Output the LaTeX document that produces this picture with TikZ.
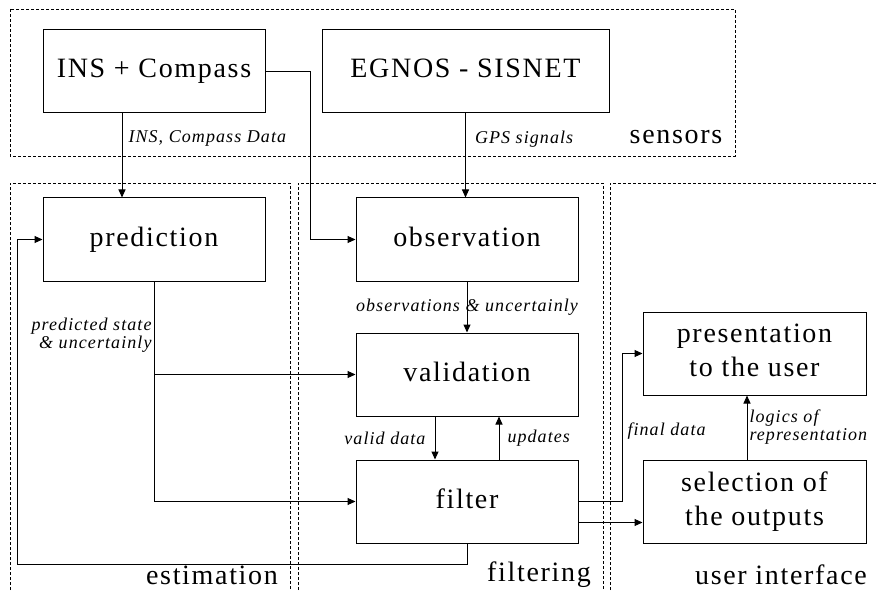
\documentclass[tikz,border=0pt]{standalone}
\usepackage{fontspec}
\setmainfont{Liberation Serif}[LetterSpace=6]
\usetikzlibrary{arrows.meta,positioning}

\begin{document}
\begin{tikzpicture}[x=1pt,y=-1pt,>={Triangle[length=8pt,width=7pt]},
                    line width=1pt,
                    block/.style={draw,minimum width=222pt,minimum height=83pt,
                      inner sep=0pt,align=center,font=\fontsize{28}{34}\selectfont,
                      execute at begin node={\vphantom{Ag}}},
                    note/.style={inner sep=0pt,align=left,
                      font=\fontsize{18}{18}\selectfont\itshape},
                    group/.style={draw,line width=0.8pt,dash pattern=on 3pt off 2pt},
                    grouplabel/.style={inner sep=0pt,font=\fontsize{28}{34}\selectfont}]

  	\useasboundingbox (0,0) rectangle (876,591);

  	% groups
  	\draw[group] (10,9) rectangle (735,156);
  	\draw[group] (10,600) |- (290,183) -- (290,600);
  	\draw[group] (298,600) |- (603,183) -- (603,600);
  	\draw[group] (610,600) |- (880,183);

  	\node[grouplabel] (sensorslbl)    at (676,137)   {sensors};
  	\node[grouplabel] (estimationlbl) at (212,575)   {estimation};
  	\node[grouplabel] (filteringlbl)  at (539,575)   {filtering};
  	\node[grouplabel] (uilbl)         at (781,575)   {user interface};

  	% blocks
  	\node[block] (INS)                   at (154,71.5)  {INS + Compass};
  	\node[block,minimum width=287pt] (EGNOS) at (465.5,71.5) {EGNOS - SISNET};
  	\node[block] (prediction)  [below=84pt of INS]        {prediction};
  	\node[block] (observation) [right=90pt of prediction] {observation};
  	\node[block] (validation)  [below=51pt of observation] {validation};
  	\node[block] (filter)      [below=43pt of validation]  {filter};
  	\node[block,minimum width=223pt] (selection)    [right=64pt of filter]    {selection of\\the outputs};
  	\node[block,minimum width=223pt] (presentation) [above=64pt of selection] {presentation\\to the user};

  	\coordinate[below=21pt of filter.south]   (loopdown);
  	\coordinate[left=25pt of prediction.west] (loopleft);

  	% connectors
  	\draw[->] ([xshift=-32pt]INS.south) -- node[note,pos=0.3,right=6pt] {INS, Compass Data}
  	          ([xshift=-32pt]prediction.north);
  	\draw[->] (INS.east) -- ++(45,0) |- (observation.west);
  	\draw[->] (EGNOS.south) -- node[note,pos=0.3,right=9pt] {GPS signals}
  	          (EGNOS.south |- observation.north);
  	\draw[->] (observation) -- node[note,pos=0.5] {observations \& uncertainly} (validation);
  	\draw[->] (prediction.south) |- (filter.west);
  	\draw[->] (prediction.south |- validation.west) -- (validation.west);
  	\node[note,align=right,anchor=east] (predlbl) at (152,335) {predicted state\\\& uncertainly};
  	\draw[->] ([xshift=-32pt]validation.south) -- node[note,left=9pt] {valid data}
  	          ([xshift=-32pt]filter.north);
  	\draw[->] ([xshift=32pt]filter.north) -- node[note,right=8pt] {updates}
  	          ([xshift=32pt]validation.south);
  	\draw[->] (filter.south) -- (loopdown) -| (loopleft) -- (prediction.west);
  	\draw[->] (filter.east) -- ++(44,0) |- (presentation.west);
  	\draw[->] ([yshift=-21pt]filter.east) -- ([yshift=-21pt]selection.west);
  	\node[note,anchor=west] (finallbl) at (627,431) {final data};
  	\draw[->] ([xshift=-7.5pt]selection.north) -- node[note,right=2pt] {logics of\\representation}
  	          ([xshift=-7.5pt]presentation.south);

\end{tikzpicture}
\end{document}
